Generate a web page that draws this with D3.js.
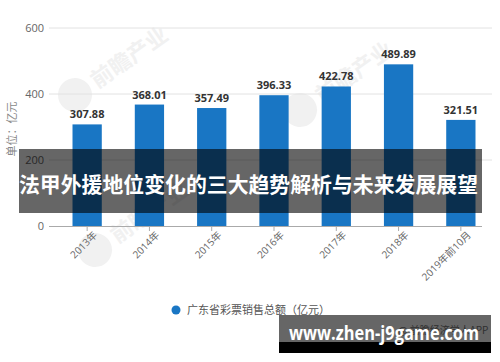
<!DOCTYPE html>
<html>
<head>
<meta charset="utf-8">
<script src="https://cdn.jsdelivr.net/npm/d3@7"></script>
<style>
  body { margin: 0; background: #fff; }
  svg { display: block; font-family: "Open Sans", "Noto Sans CJK SC", sans-serif; }
</style>
</head>
<body>
<svg width="500" height="362"></svg>
<script>
const categories = ['2013年', '2014年', '2015年', '2016年', '2017年', '2018年', '2019年前10月'];
const values = [307.88, 368.01, 357.49, 396.33, 422.78, 489.89, 321.51];
const yTicks = [0, 200, 400, 600];
const seriesName = '广东省彩票销售总额（亿元）';
const title = '法甲外援地位变化的三大趋势解析与未来发展展望';
const site = 'www.zhen-j9game.com';

const svg = d3.select('svg');
const barColor = '#1976c4';

const xScale = d3.scaleBand()
    .domain(categories)
    .range([56, 492])
    .paddingInner(0.53)
    .paddingOuter(0.265);
const yScale = d3.scaleLinear()
    .domain([0, 600])
    .range([226, 28]);

// faint watermarks
const wm = svg.append('g').attr('fill', '#f1f1f1');
[[75, 95], [300, 110], [95, 250]].forEach(([x, y]) => {
    const g = wm.append('g').attr('transform', `translate(${x},${y}) rotate(-35)`);
    g.append('circle').attr('cx', 0).attr('cy', 0).attr('r', 17);
    g.append('text').attr('x', 22).attr('y', 8)
        .attr('font-size', 22).attr('font-weight', 700)
        .attr('font-family', 'Noto Sans CJK SC')
        .text('前瞻产业');
});

// grid
svg.append('g').selectAll('line').data(yTicks.filter(d => d > 0))
    .enter().append('line')
    .attr('x1', 49).attr('x2', 492)
    .attr('y1', d => yScale(d)).attr('y2', d => yScale(d))
    .attr('stroke', '#e2e2e2');

// y tick labels
svg.append('g').selectAll('text').data(yTicks)
    .enter().append('text')
    .attr('x', 44).attr('y', d => yScale(d) + 4)
    .attr('text-anchor', 'end')
    .attr('font-size', 11).attr('fill', '#666')
    .text(d => d);

// y axis title
svg.append('text')
    .attr('transform', 'translate(16,129) rotate(-90)')
    .attr('text-anchor', 'middle')
    .attr('font-size', 11).attr('fill', '#888')
    .attr('font-family', 'Noto Sans CJK SC')
    .text('单位：亿元');

// bars
svg.append('g').selectAll('rect').data(values)
    .enter().append('rect')
    .attr('x', (d, i) => xScale(categories[i]))
    .attr('y', d => yScale(d))
    .attr('width', xScale.bandwidth())
    .attr('height', d => yScale(0) - yScale(d))
    .attr('fill', barColor);

// value labels
svg.append('g').selectAll('text').data(values)
    .enter().append('text')
    .attr('x', (d, i) => xScale(categories[i]) + xScale.bandwidth() / 2)
    .attr('y', d => yScale(d) - 6)
    .attr('text-anchor', 'middle')
    .attr('font-size', 11).attr('font-weight', 700).attr('fill', '#333')
    .text(d => d.toFixed(2));

// x axis
const xAxis = svg.append('g').attr('transform', `translate(0,${yScale(0)})`)
    .call(d3.axisBottom(xScale).tickSize(5).tickSizeOuter(0));
xAxis.select('.domain').attr('stroke', '#aaa').attr('d', 'M49,0.5H482');
xAxis.selectAll('.tick line').attr('stroke', '#aaa');
xAxis.selectAll('.tick text')
    .attr('font-family', '"Open Sans", "Noto Sans CJK SC", sans-serif')
    .attr('font-size', 10).attr('fill', '#666')
    .attr('text-anchor', 'end')
    .attr('transform', 'translate(4,3) rotate(-45)')
    .attr('dy', '0.35em')
    .attr('y', 6).attr('x', 0);

// legend
svg.append('circle').attr('cx', 176).attr('cy', 310).attr('r', 4.5).attr('fill', barColor);
svg.append('text').attr('x', 187).attr('y', 314)
    .attr('font-size', 11).attr('fill', '#555')
    .attr('font-family', 'Noto Sans CJK SC')
    .text(seriesName);

// watermark text under banner
svg.append('text').attr('x', 398).attr('y', 334)
    .attr('font-size', 10).attr('fill', '#777')
    .attr('font-family', 'Noto Sans CJK SC')
    .text('@ 前瞻经济学人APP');

// title band overlay
svg.append('rect').attr('x', 19).attr('y', 149).attr('width', 463).attr('height', 64)
    .attr('fill', '#000').attr('opacity', 0.6);
svg.append('text').attr('x', 19).attr('y', 192)
    .attr('font-size', 21).attr('font-weight', 700).attr('fill', '#fff')
    .attr('font-family', 'Noto Sans CJK SC')
    .attr('textLength', 459).attr('lengthAdjust', 'spacingAndGlyphs')
    .text(title);

// site banner
svg.append('rect').attr('x', 279).attr('y', 315).attr('width', 212).attr('height', 38)
    .attr('fill', '#000').attr('opacity', 0.6);
svg.append('rect').attr('x', 279).attr('y', 342).attr('width', 212).attr('height', 11)
    .attr('fill', '#000');
svg.append('text').attr('x', 289).attr('y', 340)
    .attr('font-size', 19).attr('font-weight', 700).attr('fill', '#fff')
    .attr('textLength', 190).attr('lengthAdjust', 'spacingAndGlyphs')
    .text(site);
</script>
</body>
</html>
